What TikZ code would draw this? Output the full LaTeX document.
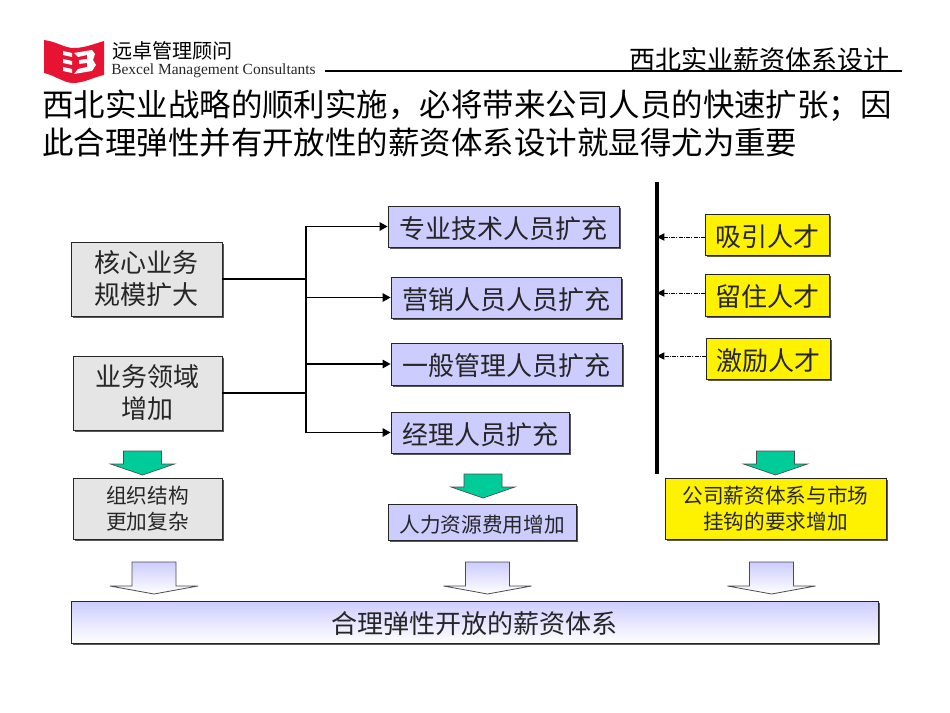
\documentclass[tikz,border=0pt]{standalone}
\usepackage{fontspec}
\setmainfont{Noto Sans CJK SC}
\newfontfamily\latf{Liberation Serif}
\usetikzlibrary{arrows.meta,shadows}
\tikzset{
  x=0.75pt,y=-0.75pt,
  boxbase/.style={draw=black!85,line width=0.7pt,inner sep=0pt,align=center,text=black!85,
    drop shadow={shadow xshift=1.5pt,shadow yshift=-1.5pt,fill=black!65,opacity=1}},
  graybox/.style={boxbase,fill=black!10},
  bluebox/.style={boxbase,fill={rgb,255:red,204;green,204;blue,255}},
  yellowbox/.style={boxbase,fill=yellow},
  finalbox/.style={boxbase,top color={rgb,255:red,204;green,204;blue,255},bottom color=white},
  big/.style={font=\fontsize{19.5pt}{24pt}\selectfont,execute at begin node={\rule{0pt}{19pt}}},
  bigtwo/.style={font=\fontsize{19.5pt}{24pt}\selectfont,execute at begin node={\rule{0pt}{26pt}}},
  small/.style={font=\fontsize{15.5pt}{19.5pt}\selectfont,execute at begin node={\rule{0pt}{16.7pt}}},
  smalltwo/.style={font=\fontsize{15.5pt}{19.5pt}\selectfont,execute at begin node={\rule{0pt}{20.5pt}}},
  thinlink/.style={line width=0.8pt,-{Triangle[length=6pt,width=6.5pt]}},
  dotlink/.style={line width=0.6pt,densely dashdotted,-{Triangle[length=5.5pt,width=5.5pt]}},
  heavy/.style={line width=1.2pt},
  greenarrow/.style={fill={rgb,255:red,0;green,204;blue,153},draw=black!70,line width=0.5pt},
  palearrow/.style={top color={rgb,255:red,204;green,204;blue,255},bottom color=white,draw=black!70,line width=0.6pt},
  heading/.style={font=\fontsize{23.6pt}{28pt}\selectfont,anchor=west,inner sep=0pt},
}
\newcommand{\bx}[7]{%
  \pgfmathsetmacro{\bw}{(#4-#2)*0.75}\pgfmathsetmacro{\bh}{(#5-#3)*0.75}%
  \node[#6,minimum width=\bw pt,minimum height=\bh pt] (#1) at ({(#2+#4)/2},{(#3+#5)/2}) {#7};}
\newcommand{\garrow}[2]{%
  \path[greenarrow] (#1-19,#2) -- (#1+19,#2) -- (#1+19,#2+13) -- (#1+32,#2+13) -- (#1,#2+24) -- (#1-32,#2+13) -- (#1-19,#2+13) -- cycle;}
\newcommand{\parrow}[1]{%
  \path[palearrow] (#1-22,562) -- (#1+22,562) -- (#1+22,586) -- (#1+44,586) -- (#1,594) -- (#1-44,586) -- (#1-22,586) -- cycle;}
\begin{document}
\begin{tikzpicture}
\useasboundingbox (0,0) rectangle (950,713);
% logo
\path[fill={rgb,255:red,230;green,20;blue,50}] (44,40) .. controls (58,42) and (64,48) .. (74,48) .. controls (84,48) and (94,44) .. (104,41) -- (104,75) .. controls (94,77) and (84,83) .. (73,83) .. controls (64,83) and (54,75) .. (44,73) -- cycle;
\path[fill=white] (63,51) -- (72,53) -- (72,57) -- (63,55) -- cycle (63,59) -- (72,61) -- (72,65) -- (63,63) -- cycle (63,67) -- (72,69) -- (72,73) -- (63,71) -- cycle
 (74,53) -- (92,50) -- (95,54) -- (93,60) -- (96,65) -- (92,71) -- (74,74) -- (78,69) -- (87,67) -- (87,63) -- (79,64) -- (79,60) -- (87,59) -- (87,55) -- (78,57) -- cycle;
\node[inner sep=0pt,anchor=west,font=\fontsize{15.1pt}{15pt}\selectfont] (logocn) at (112,51) {远卓管理顾问};
\node[inner sep=0pt,anchor=west,font=\latf\fontsize{11.6pt}{12pt}\selectfont,text=black!85] (logoen) at (111,70.5) {Bexcel Management Consultants};
\draw[line width=0.8pt] (325,71) -- (902,71);
\node[inner sep=0pt,anchor=east,font=\fontsize{19.5pt}{20pt}\selectfont] (doctitle) at (890,60) {西北实业薪资体系设计};
\node[heading] (h1) at (42,106) {西北实业战略的顺利实施，必将带来公司人员的快速扩张；因};
\node[heading] (h2) at (42,143) {此合理弹性并有开放性的薪资体系设计就显得尤为重要};
% left boxes
\bx{core}{71}{242}{222}{316}{graybox,bigtwo}{核心业务\\规模扩大}
\bx{field}{73}{356}{222}{430}{graybox,bigtwo}{业务领域\\增加}
\bx{org}{73}{478}{222}{539}{graybox,smalltwo}{组织结构\\更加复杂}
% blue boxes
\bx{tech}{388}{206}{619}{247}{bluebox,big}{专业技术人员扩充}
\bx{sales}{391}{277}{621}{318}{bluebox,big}{营销人员人员扩充}
\bx{admin}{391}{343}{622}{385}{bluebox,big}{一般管理人员扩充}
\bx{mgr}{391}{412}{569}{453}{bluebox,big}{经理人员扩充}
\bx{cost}{388}{504}{576}{540}{bluebox,small}{人力资源费用增加}
% yellow boxes
\bx{attract}{705}{214}{829}{255}{yellowbox,big}{吸引人才}
\bx{retain}{705}{274}{829}{316}{yellowbox,big}{留住人才}
\bx{motivate}{706}{338}{830}{379}{yellowbox,big}{激励人才}
\bx{market}{665}{478}{886}{539}{yellowbox,smalltwo}{公司薪资体系与市场\\挂钩的要求增加}
\bx{final}{71}{601}{878}{643}{finalbox,big}{合理弹性开放的薪资体系}
% connectors
\coordinate (hubtop) at (306,279);
\coordinate (hubbot) at (306,393);
\draw[heavy] (core.east) -- (hubtop);
\draw[heavy] (field.east) -- (hubbot);
\draw[line width=2pt] (hubtop) -- (hubbot);
\draw[thinlink] (hubtop) |- (tech.west);
\draw[thinlink] (hubbot) |- (mgr.west);
\draw[thinlink] (hubtop |- sales.west) -- (sales.west);
\draw[thinlink] (hubtop |- admin.west) -- (admin.west);
% right bar
\coordinate (bartop) at (657,182);
\coordinate (barbot) at (657,474);
\draw[line width=2.3pt] (bartop) -- (barbot);
\coordinate (a1) at (705,237);\coordinate (a2) at (705,293);\coordinate (a3) at (706,356);
\draw[dotlink] (a1) -- (a1 -| bartop);
\draw[dotlink] (a2) -- (a2 -| bartop);
\draw[dotlink] (a3) -- (a3 -| bartop);
% block arrows
\garrow{142.5}{451}
\garrow{483}{474}
\garrow{775.5}{451}
\parrow{154}
\parrow{487.5}
\parrow{771.5}
\end{tikzpicture}
\end{document}
